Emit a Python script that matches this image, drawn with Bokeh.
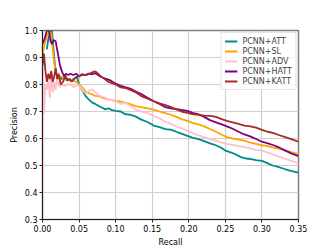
from bokeh.plotting import figure
from bokeh.models import Range1d, FixedTicker, NumeralTickFormatter, Legend, LegendItem
from bokeh.embed import file_html
from bokeh.resources import INLINE

labels = ["PCNN+ATT", "PCNN+SL", "PCNN+ADV", "PCNN+HATT", "PCNN+KATT"]
colors = ["darkcyan", "orange", "pink", "purple", "brown"]

att_x = [0.006, 0.008, 0.011, 0.013, 0.015, 0.017, 0.019, 0.022, 0.026, 0.030, 0.034, 0.038, 0.043,
         0.047, 0.050, 0.054, 0.059, 0.063, 0.068, 0.072, 0.077, 0.081, 0.086, 0.090, 0.095, 0.100,
         0.107, 0.113, 0.120, 0.127, 0.135, 0.143, 0.152, 0.160, 0.168, 0.175, 0.183, 0.190, 0.198,
         0.205, 0.213, 0.221, 0.229, 0.237, 0.245, 0.250, 0.258, 0.265, 0.272, 0.278, 0.285, 0.292,
         0.300, 0.308, 0.315, 0.322, 0.330, 0.337, 0.344, 0.350]
att_y = [0.93, 0.97, 1.0, 1.0, 0.93, 0.87, 0.84, 0.83, 0.82, 0.835, 0.82, 0.815, 0.82,
         0.83, 0.80, 0.78, 0.757, 0.745, 0.733, 0.728, 0.72, 0.715, 0.708, 0.712, 0.705, 0.702,
         0.700, 0.690, 0.688, 0.682, 0.670, 0.662, 0.648, 0.642, 0.635, 0.633, 0.625, 0.618, 0.610,
         0.603, 0.598, 0.590, 0.582, 0.575, 0.565, 0.555, 0.548, 0.540, 0.530, 0.526, 0.524, 0.520,
         0.517, 0.508, 0.500, 0.495, 0.488, 0.482, 0.477, 0.474]

sl_x = [0.0, 0.003, 0.006, 0.009, 0.012, 0.014, 0.016, 0.018, 0.021, 0.025, 0.029, 0.033, 0.037,
        0.041, 0.045, 0.050, 0.054, 0.059, 0.063, 0.068, 0.072, 0.077, 0.082, 0.088, 0.094, 0.100,
        0.107, 0.113, 0.120, 0.127, 0.135, 0.143, 0.152, 0.160, 0.168, 0.175, 0.183, 0.190, 0.198,
        0.205, 0.213, 0.221, 0.229, 0.237, 0.245, 0.252, 0.260, 0.268, 0.276, 0.284, 0.292, 0.300,
        0.308, 0.316, 0.324, 0.332, 0.340, 0.350]
sl_y = [0.91, 0.95, 0.98, 0.995, 0.99, 0.93, 0.88, 0.85, 0.82, 0.83, 0.825, 0.815, 0.82,
        0.815, 0.812, 0.80, 0.79, 0.775, 0.768, 0.763, 0.758, 0.757, 0.75, 0.746, 0.742, 0.739,
        0.737, 0.733, 0.727, 0.72, 0.716, 0.712, 0.707, 0.70, 0.694, 0.688, 0.68, 0.672, 0.665,
        0.658, 0.652, 0.645, 0.635, 0.625, 0.614, 0.605, 0.60, 0.596, 0.592, 0.585, 0.58, 0.575,
        0.572, 0.566, 0.562, 0.556, 0.55, 0.542]

adv_x = [0.0, 0.0008, 0.002, 0.004, 0.006, 0.008, 0.010, 0.012, 0.014, 0.016, 0.018, 0.020, 0.023,
         0.026, 0.030, 0.034, 0.038, 0.043, 0.047, 0.052, 0.056, 0.059, 0.063, 0.068, 0.072, 0.077,
         0.081, 0.086, 0.090, 0.095, 0.100, 0.107, 0.113, 0.120, 0.127, 0.135, 0.143, 0.152, 0.160,
         0.168, 0.175, 0.183, 0.190, 0.198, 0.205, 0.213, 0.221, 0.229, 0.237, 0.245, 0.252, 0.260,
         0.268, 0.276, 0.284, 0.292, 0.300, 0.308, 0.316, 0.324, 0.332, 0.340, 0.350]
adv_y = [0.0, 0.87, 0.69, 0.80, 0.78, 0.82, 0.75, 0.84, 0.77, 0.81, 0.78, 0.82, 0.79,
         0.80, 0.795, 0.80, 0.80, 0.79, 0.80, 0.79, 0.775, 0.768, 0.775, 0.782, 0.772, 0.76,
         0.755, 0.751, 0.745, 0.742, 0.739, 0.728, 0.733, 0.72, 0.708, 0.70, 0.695, 0.684, 0.675,
         0.662, 0.655, 0.645, 0.638, 0.628, 0.62, 0.612, 0.605, 0.598, 0.592, 0.585, 0.58, 0.576,
         0.572, 0.568, 0.563, 0.558, 0.555, 0.548, 0.54, 0.532, 0.525, 0.517, 0.508]

hatt_x = [0.0, 0.003, 0.006, 0.009, 0.011, 0.013, 0.015, 0.018, 0.020, 0.022, 0.024, 0.027, 0.030,
          0.032, 0.035, 0.038, 0.042, 0.046, 0.050, 0.054, 0.058, 0.063, 0.068, 0.072, 0.076, 0.079,
          0.083, 0.088, 0.093, 0.100, 0.107, 0.113, 0.120, 0.127, 0.135, 0.143, 0.152, 0.160, 0.168,
          0.175, 0.183, 0.190, 0.198, 0.205, 0.213, 0.221, 0.229, 0.237, 0.245, 0.252, 0.260, 0.268,
          0.276, 0.284, 0.292, 0.300, 0.308, 0.316, 0.324, 0.332, 0.340, 0.350]
hatt_y = [0.95, 0.97, 1.0, 1.0, 0.96, 0.95, 0.965, 0.96, 0.93, 0.90, 0.87, 0.845, 0.83,
          0.84, 0.835, 0.84, 0.835, 0.84, 0.83, 0.838, 0.835, 0.84, 0.838, 0.842, 0.835, 0.83,
          0.825, 0.82, 0.815, 0.803, 0.795, 0.79, 0.785, 0.775, 0.765, 0.752, 0.738, 0.728, 0.716,
          0.712, 0.709, 0.706, 0.702, 0.695, 0.69, 0.68, 0.668, 0.66, 0.652, 0.645, 0.636, 0.625,
          0.615, 0.608, 0.598, 0.588, 0.582, 0.575, 0.566, 0.555, 0.545, 0.535]

katt_x = [0.0, 0.002, 0.004, 0.006, 0.008, 0.010, 0.012, 0.014, 0.016, 0.018, 0.020, 0.022, 0.025,
          0.028, 0.031, 0.034, 0.037, 0.040, 0.043, 0.047, 0.050, 0.054, 0.059, 0.063, 0.068, 0.072,
          0.076, 0.080, 0.085, 0.090, 0.095, 0.100, 0.107, 0.113, 0.120, 0.127, 0.135, 0.143, 0.152,
          0.160, 0.168, 0.175, 0.183, 0.190, 0.198, 0.205, 0.213, 0.221, 0.229, 0.237, 0.245, 0.252,
          0.260, 0.268, 0.276, 0.284, 0.292, 0.300, 0.308, 0.316, 0.324, 0.332, 0.340, 0.350]
katt_y = [0.87, 0.915, 0.85, 0.81, 0.84, 0.82, 0.85, 0.81, 0.83, 0.86, 0.82, 0.84, 0.80,
          0.81, 0.83, 0.815, 0.82, 0.81, 0.82, 0.828, 0.83, 0.836, 0.835, 0.838, 0.845, 0.849,
          0.84, 0.83, 0.82, 0.81, 0.805, 0.80, 0.789, 0.787, 0.78, 0.772, 0.757, 0.748, 0.738,
          0.73, 0.724, 0.717, 0.708, 0.70, 0.695, 0.69, 0.688, 0.685, 0.684, 0.68, 0.672, 0.665,
          0.66, 0.654, 0.648, 0.645, 0.64, 0.632, 0.625, 0.62, 0.612, 0.605, 0.598, 0.588]

x_ticks = [0.0, 0.05, 0.10, 0.15, 0.20, 0.25, 0.30, 0.35]
y_ticks = [0.3, 0.4, 0.5, 0.6, 0.7, 0.8, 0.9, 1.0]

FONT = "DejaVu Sans"

p = figure(width=323, height=249, output_backend="svg", toolbar_location=None,
           x_range=Range1d(0.0, 0.35), y_range=Range1d(0.3, 1.0),
           min_border_left=42, min_border_right=25, min_border_top=30, min_border_bottom=27)

p.outline_line_color = "#808080"
p.outline_line_width = 1.5

for ax, lab in ((p.xaxis[0], "Recall"), (p.yaxis[0], "Precision")):
    ax.axis_label = lab
    ax.axis_label_text_font = FONT
    ax.axis_label_text_font_size = "8px"
    ax.axis_label_text_font_style = "normal"
    ax.axis_label_text_color = "black"
    ax.axis_label_standoff = 3
    ax.major_label_text_font = FONT
    ax.major_label_text_font_size = "8px"
    ax.major_label_text_color = "black"
    ax.major_label_standoff = 2
    ax.axis_line_color = "#222222"
    ax.major_tick_line_color = "#222222"
    ax.major_tick_out = 3
    ax.major_tick_in = 0
    ax.minor_tick_line_color = None

p.xaxis[0].ticker = FixedTicker(ticks=x_ticks)
p.yaxis[0].ticker = FixedTicker(ticks=y_ticks)
p.xaxis[0].formatter = NumeralTickFormatter(format="0.00")
p.yaxis[0].formatter = NumeralTickFormatter(format="0.0")

p.grid.grid_line_color = "#cfcfcf"
p.grid.grid_line_width = 1.2

series = [(att_x, att_y), (sl_x, sl_y), (adv_x, adv_y), (hatt_x, hatt_y), (katt_x, katt_y)]
renderers = []
for (xs, ys), c in zip(series, colors):
    r = p.line(xs, ys, color=c, line_width=1.8)
    renderers.append(r)

items = [LegendItem(label=l, renderers=[r]) for l, r in zip(labels, renderers)]
legend = Legend(items=items, location="top_right",
                label_text_font=FONT, label_text_font_size="8px",
                glyph_width=13, glyph_height=10, label_height=10, label_standoff=5,
                spacing=0, padding=3, margin=2,
                border_line_color="#cccccc", border_line_width=1,
                background_fill_color="white", background_fill_alpha=0.85)
p.add_layout(legend, "center")

open("out.html", "w").write(file_html(p, INLINE))
